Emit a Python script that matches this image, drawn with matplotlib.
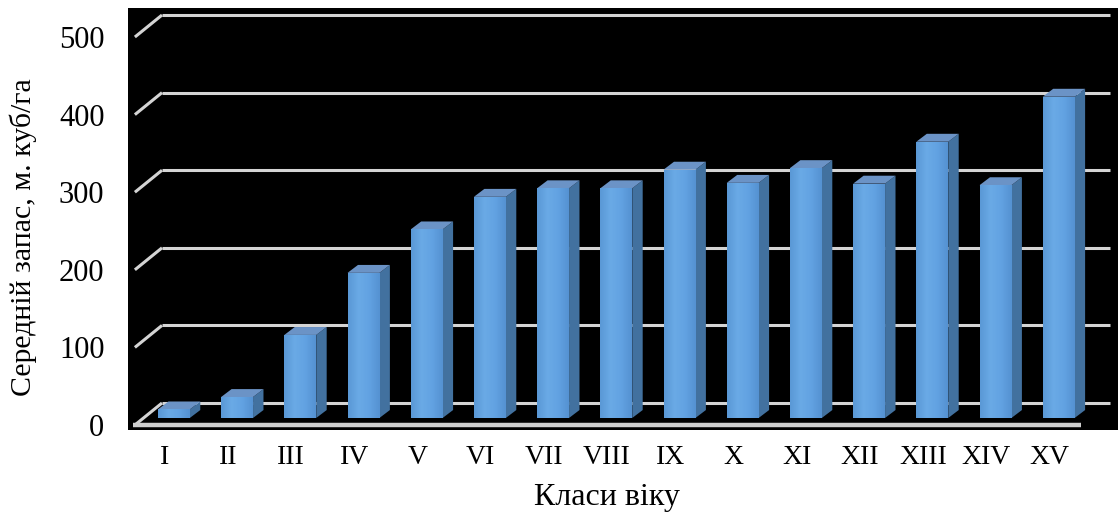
import numpy as np
import matplotlib
matplotlib.use("Agg")
import matplotlib.pyplot as plt
from matplotlib.patches import Polygon, Rectangle
from matplotlib.colors import LinearSegmentedColormap

# --- data -------------------------------------------------------------
age_classes = ["I", "II", "III", "IV", "V", "VI", "VII", "VIII",
               "IX", "X", "XI", "XII", "XIII", "XIV", "XV"]
mean_stock = [11, 27, 107, 187, 243, 285, 296, 296,
              320, 303, 322, 302, 356, 300, 414]
y_ticks = [0, 100, 200, 300, 400, 500]
y_label = "Середній запас, м. куб/га"
x_label = "Класи віку"

# --- pseudo-3D geometry (in data units) -------------------------------
DX = 0.459      # depth shift along x (categories)
DY = 28.35      # depth shift along y (value units)
F_FRONT, F_BACK = 0.32, 0.68   # depth of bar front/back planes
BAR_W = 0.505

plt.rcParams["font.family"] = ["Liberation Serif", "DejaVu Serif"]

W, H = 1118, 515
fig = plt.figure(figsize=(W / 100, H / 100), dpi=100)
fig.patch.set_facecolor("white")
ax = fig.add_axes([128 / W, (H - 430) / H, 990 / W, 422 / H])
ax.set_facecolor("black")

n = len(age_classes)
x0, x1 = -0.5, n - 0.5
XLIM = (-0.579, 15.085)
YLIM = (-6.44, 537.4)

grid_c = "#d4d4d4"
# back wall grid lines and left wall diagonals
for v in y_ticks:
    ax.plot([x0 + DX, x1 + DX], [v + DY, v + DY], color=grid_c, lw=2.2,
            solid_capstyle="butt", zorder=1)
    ax.plot([x0 + 0.03, x0 + DX], [v, v + DY], color=grid_c, lw=2.2,
            solid_capstyle="butt", zorder=1)
# front edge of the floor
ax.plot([x0, x1], [0, 0], color="#cfcfcf", lw=3.2,
        solid_capstyle="butt", zorder=1)

front_cmap = LinearSegmentedColormap.from_list(
    "front", ["#5a98d6", "#6aaae6", "#62a2e2", "#5592d2"])
grad = np.linspace(0, 1, 64).reshape(1, -1)

for i, v in enumerate(mean_stock):
    xl1 = i - BAR_W / 2 + F_FRONT * DX
    xr1 = i + BAR_W / 2 + F_FRONT * DX
    xl2 = i - BAR_W / 2 + F_BACK * DX
    xr2 = i + BAR_W / 2 + F_BACK * DX
    yb1, yb2 = F_FRONT * DY, F_BACK * DY
    # side face
    ax.add_patch(Polygon([(xr1, yb1), (xr2, yb2), (xr2, v + yb2), (xr1, v + yb1)],
                         closed=True, facecolor="#42719f", edgecolor="none",
                         zorder=3))
    # top face
    ax.add_patch(Polygon([(xl1, v + yb1), (xr1, v + yb1), (xr2, v + yb2), (xl2, v + yb2)],
                         closed=True, facecolor="#6b93c6", edgecolor="none",
                         zorder=3))
    # front face with horizontal shading
    rect = Rectangle((xl1, yb1), xr1 - xl1, v, facecolor="none",
                     edgecolor="none", zorder=4)
    ax.add_patch(rect)
    im = ax.imshow(grad, cmap=front_cmap, extent=(xl1, xr1, yb1, yb1 + v),
                   aspect="auto", interpolation="bicubic", zorder=4)
    im.set_clip_path(rect)

ax.set_aspect("auto")
ax.set_xlim(*XLIM)
ax.set_ylim(*YLIM)

for s in ax.spines.values():
    s.set_visible(False)

ax.set_yticks(y_ticks)
ax.set_yticklabels([str(t) for t in y_ticks], fontsize=22)
ax.set_xticks(range(n))
ax.set_xticklabels(age_classes, fontsize=20)
ax.tick_params(axis="y", length=0, pad=17)
ax.tick_params(axis="x", length=0, pad=11)

ax.set_xlabel(x_label, fontsize=23)
ax.xaxis.label.set_va("center")
ax.xaxis.set_label_coords((607 - 128) / 990, (430 - 498) / 422)
ax.set_ylabel(y_label, fontsize=21.5)
ax.yaxis.label.set_va("center")
ax.yaxis.set_label_coords((23 - 128) / 990, (430 - 237) / 422)

fig.savefig("out.png", dpi=100, facecolor="white")
